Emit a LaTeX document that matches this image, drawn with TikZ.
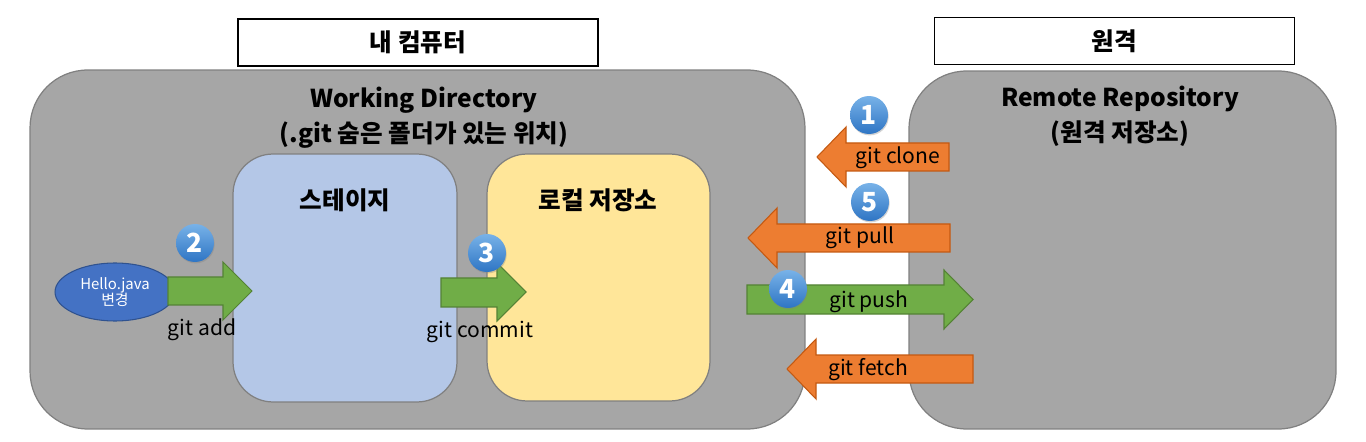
\documentclass[tikz,border=0pt]{standalone}
\usepackage{fontspec}
\setmainfont{Noto Sans CJK KR}
\usetikzlibrary{shapes, arrows.meta, positioning, calc, shadows}
\definecolor{boxgray}{RGB}{166, 166, 166}
\definecolor{edgegray}{RGB}{128, 128, 128}
\definecolor{stageblue}{RGB}{180, 199, 231}
\definecolor{localyellow}{RGB}{255, 230, 153}
\definecolor{orange1}{RGB}{237, 125, 49}
\definecolor{orangeedge}{RGB}{196, 89, 17}
\definecolor{green1}{RGB}{112, 173, 71}
\definecolor{greenedge}{RGB}{84, 130, 53}
\definecolor{fileblue}{RGB}{68, 114, 196}
\definecolor{fileedge}{RGB}{47, 82, 143}
\definecolor{balltop}{RGB}{120, 178, 232}
\definecolor{ballbottom}{RGB}{46, 117, 196}

\begin{document}
\begin{tikzpicture}[x=0.02cm, y=-0.02cm,
  areabox/.style={draw=edgegray, fill=boxgray, line width=0.7pt, rounded corners=1.15cm},
  innerbox/.style={draw=edgegray, line width=0.7pt, rounded corners=0.8cm},
  headbox/.style={draw=black, fill=white, line width=0.7pt, minimum width=7.2cm, minimum height=0.94cm, font=\fontsize{14}{16}\selectfont\bfseries},
  titletext/.style={font=\fontsize{14}{20}\selectfont\bfseries, align=center},
  cmdtext/.style={font=\fontsize{12}{14}\selectfont},
  numball/.style={circle, minimum size=0.76cm, inner sep=0pt, top color=balltop, bottom color=ballbottom, text=white, font=\fontsize{15}{15}\selectfont\bfseries, drop shadow={shadow xshift=0.4pt, shadow yshift=-0.8pt, opacity=0.35}},
  orangearrow/.style={draw=orangeedge, fill=orange1, line width=0.6pt},
  greenarrow/.style={draw=greenedge, fill=green1, line width=0.6pt}]
  \useasboundingbox (0,0) rectangle (1366,442);

  % Headers
  \node[headbox] (mypc) at (418,42.5) {내 컴퓨터};
  \node[headbox] (remotehead) at (1114.5,41) {원격};

  % Areas
  \node[areabox, minimum width=15.5cm, minimum height=7.18cm] (workdir) at (417.5,249.5) {};
  \node[areabox, minimum width=8.54cm, minimum height=7.16cm] (remote) at (1122.5,250) {};
  \node[titletext] (worktitle) at (424,118) {Working Directory\\(.git 숨은 폴더가 있는 위치)};
  \node[titletext] (remotetitle) at (1120,116) {Remote Repository\\(원격 저장소)};

  % Stage and local repository
  \node[innerbox, fill=stageblue, minimum width=4.48cm, minimum height=4.96cm] (stage) at (345,278) {};
  \node[innerbox, fill=localyellow, minimum width=4.46cm, minimum height=4.94cm] (local) at (598.5,277.5) {};
  \node[titletext] (stagetitle) at (345,200) {스테이지};
  \node[titletext] (localtitle) at (598,200) {로컬 저장소};

  % Changed file
  \node[ellipse, draw=fileedge, fill=fileblue, line width=0.6pt, minimum width=2.4cm, minimum height=1.16cm, inner sep=0pt, text=white, font=\fontsize{8.5}{9.5}\selectfont, align=center] (file) at (115,292) {Hello.java\\변경};

  % git add / git commit
  \draw[greenarrow] (168,277) -- (223,277) -- (223,262) -- (252,291) -- (223,320) -- (223,305) -- (168,305) -- cycle;
  \draw[greenarrow] (441,278) -- (497,278) -- (497,263) -- (526,292) -- (497,321) -- (497,307) -- (441,307) -- cycle;
  \node[cmdtext] (addlabel) at (202,330) {git add};
  \node[cmdtext] (commitlabel) at (480,332) {git commit};

  % Remote commands
  \draw[orangearrow] (817,157) -- (846,127) -- (846,143) -- (949,143) -- (949,171) -- (846,171) -- (846,187) -- cycle;
  \draw[orangearrow] (748,238) -- (777,208) -- (777,224) -- (950,224) -- (950,252) -- (777,252) -- (777,268) -- cycle;
  \draw[greenarrow] (747,285) -- (944,285) -- (944,270) -- (973,299.5) -- (944,329) -- (944,314) -- (747,314) -- cycle;
  \draw[orangearrow] (787,369) -- (816,339) -- (816,355) -- (973,355) -- (973,383) -- (816,383) -- (816,399) -- cycle;
  \node[cmdtext] (clonelabel) at (898,158) {git clone};
  \node[cmdtext] (pulllabel) at (860,238) {git pull};
  \node[cmdtext] (pushlabel) at (869,302) {git push};
  \node[cmdtext] (fetchlabel) at (868,370) {git fetch};

  % Steps
  \node[numball] (step1) at (869,115) {1};
  \node[numball] (step2) at (195,243) {2};
  \node[numball] (step3) at (487,253) {3};
  \node[numball] (step4) at (788,289) {4};
  \node[numball] (step5) at (870,202) {5};
\end{tikzpicture}
\end{document}
